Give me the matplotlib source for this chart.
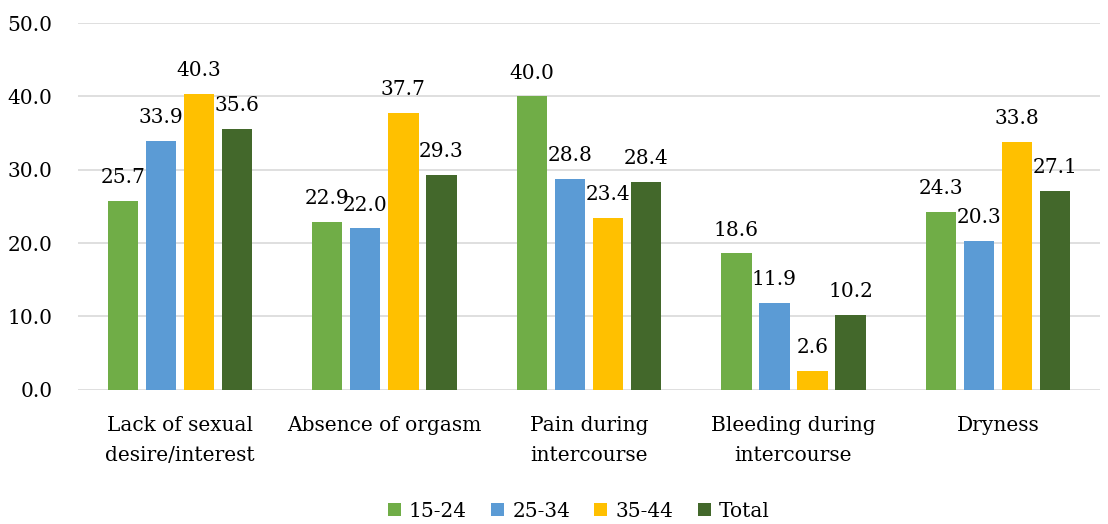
import numpy as np
import matplotlib.pyplot as plt

plt.rcParams['font.family'] = ['DejaVu Serif']

categories = ['Lack of sexual\ndesire/interest', 'Absence of orgasm', 'Pain during\nintercourse',
              'Bleeding during\nintercourse', 'Dryness']
series_names = ['15-24', '25-34', '35-44', 'Total']
age_15_24 = [25.7, 22.9, 40.0, 18.6, 24.3]
age_25_34 = [33.9, 22.0, 28.8, 11.9, 20.3]
age_35_44 = [40.3, 37.7, 23.4, 2.6, 33.8]
total = [35.6, 29.3, 28.4, 10.2, 27.1]

colors = ['#70AD47', '#5B9BD5', '#FFC000', '#43682B']
fs = 14.5

fig = plt.figure(figsize=(11.08, 5.24), dpi=100)
ax = fig.add_axes([0.070, 0.256, 0.923, 0.700])

x = np.arange(len(categories))
pitch = 0.186
bar_width = 0.148
for i, (name, vals) in enumerate(zip(series_names, [age_15_24, age_25_34, age_35_44, total])):
    pos = x + (i - 1.5) * pitch
    ax.bar(pos, vals, width=bar_width, color=colors[i], label=name, zorder=3)
    for p, v in zip(pos, vals):
        ax.annotate(f'{v:.1f}', (p, v), xytext=(0, 10), textcoords='offset points',
                    ha='center', va='bottom', fontsize=fs)

ax.set_xlim(-0.5, len(categories) - 0.5)
ax.set_ylim(0, 50)
ax.set_yticks(np.arange(0, 51, 10))
ax.set_yticklabels([f'{t:.1f}' for t in np.arange(0, 51, 10)], fontsize=fs)
ax.set_xticks(x)
ax.set_xticklabels(categories, fontsize=fs, linespacing=1.75)
ax.tick_params(axis='x', length=0, pad=19)
ax.tick_params(axis='y', length=0, pad=18)
ax.grid(axis='y', color='#D9D9D9', linewidth=1.2, zorder=0)
for s in ax.spines.values():
    s.set_visible(False)

ax.legend(loc='lower center', bbox_to_anchor=(0.49, -0.395), ncol=4, frameon=False,
          fontsize=fs, handlelength=0.65, handleheight=0.65, handletextpad=0.4, columnspacing=1.2,
          borderpad=0.2)

plt.savefig('out.png', dpi=100)
